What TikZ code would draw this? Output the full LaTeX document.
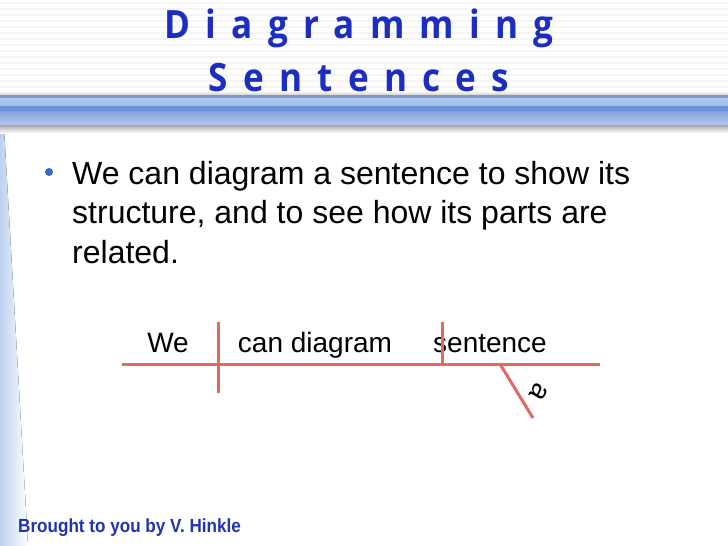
\documentclass[tikz,border=0pt]{standalone}
\usepackage{fontspec}
\setmainfont{Liberation Sans}
\newfontfamily\titlefont[FakeStretch=0.9,LetterSpace=39]{Open Sans}
\newfontfamily\footfont[FakeStretch=0.9]{Liberation Sans}
\usepackage{tikz}
\usetikzlibrary{positioning}

\definecolor{titleblue}{HTML}{1C2EC2}
\definecolor{footblue}{HTML}{2232B4}
\definecolor{dotblue}{HTML}{3A66C8}
\definecolor{linered}{HTML}{E06A60}
\definecolor{barlight}{HTML}{AACAF2}
\definecolor{barmid}{HTML}{6F91D6}
\definecolor{barpale}{HTML}{B9C8EE}
\definecolor{barrim}{HTML}{8A93C4}
\definecolor{wedgeblue}{HTML}{BCD2EF}

\begin{document}
\begin{tikzpicture}[x=1pt,y=-1pt,
   word/.style={anchor=base,inner sep=0pt,font=\fontsize{28}{30}\selectfont},
   rule/.style={draw=linered,line width=3pt}]
   \useasboundingbox (0,0) rectangle (728,546);
   % background
   \fill[white] (0,0) rectangle (728,546);
   \foreach \y in {3,9,...,93}
      \draw[black!4,line width=2.5pt] (0,\y) -- (728,\y);
   \fill[left color=wedgeblue,right color=white] (0,128) -- (4,128) -- (28,546) -- (0,546) -- cycle;
   \fill[top color=white,bottom color=black!25] (0,91) rectangle (728,96);
   \fill[barrim] (0,95) rectangle (728,98);
   \fill[top color=barlight,bottom color=barlight!80!barmid] (0,98) rectangle (728,106);
   \fill[barmid] (0,106) rectangle (728,111);
   \fill[top color=barmid!70!barpale,bottom color=barpale] (0,111) rectangle (728,125);
   \fill[top color=black!35,bottom color=white] (0,125) rectangle (728,133);
   % title (base = last line)
   \node[font=\titlefont\bfseries\fontsize{39}{53}\selectfont,text=titleblue,
         align=center,inner sep=0pt,anchor=base] (title) at (359,91)
         {Diagramming\\Sentences};
   % bullet
   \fill[dotblue] (49,172) circle (4);
   \node[font=\fontsize{32}{39.5}\selectfont,align=left,inner sep=0pt,
         anchor=base west] (point) at (72,263)
         {We can diagram a sentence to show its\\structure, and to see how its parts are\\related.};
   % sentence diagram
   \coordinate (base_l) at (122,364);
   \coordinate (base_r) at (600,364);
   \coordinate (subj_t) at (218,322);
   \coordinate (subj_b) at (218,393);
   \coordinate (obj_t) at (442,322);
   \coordinate (obj_b) at (442,364);
   \coordinate (mod_t) at (500,364);
   \coordinate (mod_b) at (533,418);
   \node[word] (we)   at (168,352) {We};
   \node[word] (verb) at (315,352) {can diagram};
   \node[word] (obj)  at (490,352) {sentence};
   \node[inner sep=0pt,rotate=-120,font=\fontsize{28}{30}\selectfont] (art) at (539,392) {a};
   \path[rule]
    (base_l) edge (base_r)
    (subj_t) edge (subj_b)
    (obj_t)  edge (obj_b)
    (mod_t)  edge (mod_b);
   % footer
   \node[font=\footfont\bfseries\fontsize{19}{21}\selectfont,text=footblue,
         anchor=base west,inner sep=0pt] (credit) at (18,532)
         {Brought to you by V. Hinkle};
\end{tikzpicture}
\end{document}
